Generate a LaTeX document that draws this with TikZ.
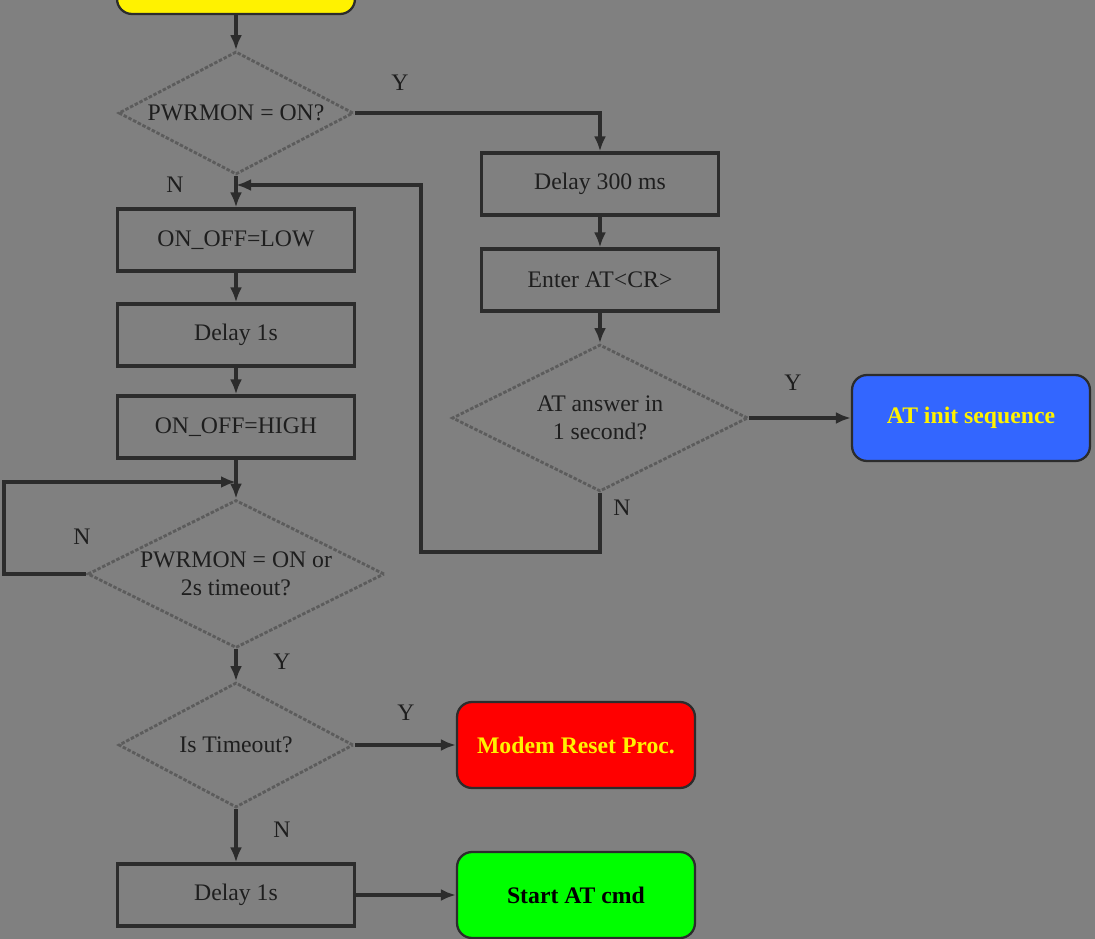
\documentclass[tikz,border=0pt]{standalone}
\usepackage{fontspec}
\setmainfont{Liberation Serif}
\usetikzlibrary{shapes.geometric,arrows.meta}

\definecolor{bggray}{RGB}{128,128,128}
\definecolor{linegray}{RGB}{44,44,44}
\definecolor{dotgray}{RGB}{92,92,92}
\definecolor{txtgray}{RGB}{30,30,30}
\definecolor{initblue}{RGB}{51,102,255}

\begin{document}
\begin{tikzpicture}[x=0.02cm,y=-0.02cm,
  font=\fontsize{13.5}{16}\selectfont,
  proc/.style={draw=linegray,line width=1.8pt,minimum width=4.74cm,minimum height=1.24cm,text=txtgray},
  term/.style={draw=linegray,line width=1.3pt,rounded corners=0.3cm,minimum width=4.76cm,minimum height=1.72cm,font=\fontsize{13.5}{16}\selectfont\bfseries},
  decision/.style={diamond,draw=dotgray,line width=1.6pt,dash pattern=on 2pt off 1pt,inner sep=0pt,minimum width=4.7cm,minimum height=2.46cm},
  dtext/.style={text=txtgray,align=center},
  yn/.style={text=txtgray},
  flow/.style={draw=linegray,line width=2pt,-{Latex[length=0.3cm,width=0.24cm]}}]
 \useasboundingbox (0,0) rectangle (1095,939);
 \fill[bggray] (0,0) rectangle (1095,939);
 \clip (0,0) rectangle (1095,939);

 % left column
 \node[term,fill=yellow,minimum height=0.96cm] (start) at (236,-10) {};
 \node[decision,label={[dtext]center:PWRMON = ON?}] (pwr) at (236,113) {};
 \node[proc] (low) at (236,240) {ON\_OFF=LOW};
 \node[proc] (dly1) at (236,335) {Delay 1s};
 \node[proc] (high) at (236,427) {ON\_OFF=HIGH};
 \node[decision,minimum width=5.94cm,minimum height=2.96cm,label={[dtext]center:PWRMON = ON or\\2s timeout?}] (wait) at (236,574) {};
 \node[decision,minimum height=2.5cm,label={[dtext]center:Is Timeout?}] (tmo) at (236,745) {};
 \node[proc] (dly2) at (236,895) {Delay 1s};

 % right column
 \node[proc] (d300) at (600,184) {Delay 300 ms};
 \node[proc] (ent) at (600,280) {Enter AT<CR>};
 \node[decision,minimum width=5.92cm,minimum height=2.94cm,label={[dtext]center:AT answer in\\1 second?}] (ans) at (600,418) {};
 \node[term,fill=initblue,text=yellow] (init) at (971,418) {AT init sequence};
 \node[term,fill=red,text=yellow] (reset) at (576,745) {Modem Reset Proc.};
 \node[term,fill=green,text=black] (cmd) at (576,895) {Start AT cmd};

 \coordinate (j1) at (236,185);
 \coordinate (r1) at (421,552);
 \coordinate (j2) at (236,482);
 \coordinate (l1) at (4,574);

 \draw[flow] (start.south) -- (pwr.north);
 \draw[flow] (pwr.east) -| (d300.north);
 \draw[flow] (d300) -- (ent);
 \draw[flow] (ent) -- (ans.north);
 \draw[flow] (ans.east) -- (init.west);
 \draw[flow] (ans.south) |- (r1) |- (j1);
 \draw[flow] (pwr.south) -- (low.north);
 \draw[flow] (low) -- (dly1);
 \draw[flow] (dly1) -- (high);
 \draw[flow] (high.south) -- (wait.north);
 \draw[flow] (wait.west) -- (l1) |- (j2);
 \draw[flow] (wait.south) -- (tmo.north);
 \draw[flow] (tmo.east) -- (reset.west);
 \draw[flow] (tmo.south) -- (dly2.north);
 \draw[flow] (dly2.east) -- (cmd.west);

 \node[yn] (y1) at (400,83) {Y};
 \node[yn] (n1) at (175,185) {N};
 \node[yn] (y2) at (793,383) {Y};
 \node[yn] (n2) at (622,508) {N};
 \node[yn] (n3) at (82,537) {N};
 \node[yn] (y3) at (282,662) {Y};
 \node[yn] (y4) at (406,713) {Y};
 \node[yn] (n4) at (282,830) {N};
\end{tikzpicture}
\end{document}
